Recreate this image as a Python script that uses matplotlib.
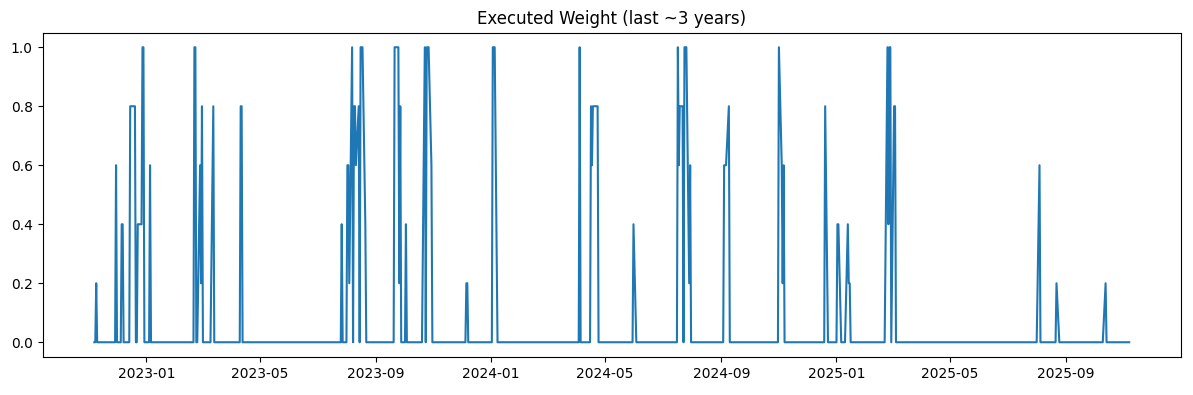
import matplotlib
matplotlib.use("Agg")
import matplotlib.pyplot as plt
import pandas as pd

start_date = "2022-11-07"
end_date = "2025-11-07"

event_dates = [
    "2022-11-09", "2022-11-30", "2022-12-06", "2022-12-07",
    "2022-12-15", "2022-12-16", "2022-12-19", "2022-12-20",
    "2022-12-23", "2022-12-26", "2022-12-27", "2022-12-28", "2022-12-29",
    "2023-01-05",
    "2023-02-21", "2023-02-22", "2023-02-27", "2023-02-28", "2023-03-01",
    "2023-03-13", "2023-04-11", "2023-04-12",
    "2023-07-27", "2023-08-02", "2023-08-03", "2023-08-04", "2023-08-07",
    "2023-08-09", "2023-08-10", "2023-08-11", "2023-08-14",
    "2023-08-16", "2023-08-17", "2023-08-18", "2023-08-21",
    "2023-09-21", "2023-09-22", "2023-09-25", "2023-09-26", "2023-09-27",
    "2023-10-03",
    "2023-10-23", "2023-10-25", "2023-10-26", "2023-10-27", "2023-10-30",
    "2023-12-06", "2023-12-07",
    "2024-01-03", "2024-01-04", "2024-01-05",
    "2024-04-04",
    "2024-04-16", "2024-04-17", "2024-04-18", "2024-04-19", "2024-04-22", "2024-04-23",
    "2024-05-31",
    "2024-07-17", "2024-07-18", "2024-07-19", "2024-07-22",
    "2024-07-24", "2024-07-25", "2024-07-26", "2024-07-29", "2024-07-30",
    "2024-09-04", "2024-09-05", "2024-09-06", "2024-09-09",
    "2024-11-01", "2024-11-04", "2024-11-05", "2024-11-06",
    "2024-12-20",
    "2025-01-02", "2025-01-03",
    "2025-01-13", "2025-01-14", "2025-01-15",
    "2025-02-24", "2025-02-25", "2025-02-26", "2025-02-27",
    "2025-03-03", "2025-03-04",
    "2025-08-04", "2025-08-22", "2025-10-13",
]
event_weights = [
    0.2, 0.6, 0.4, 0.4,
    0.8, 0.8, 0.8, 0.8,
    0.4, 0.4, 0.4, 1.0, 1.0,
    0.6,
    1.0, 1.0, 0.6, 0.2, 0.8,
    0.8, 0.8, 0.8,
    0.4, 0.6, 0.6, 0.2, 1.0,
    0.8, 0.8, 0.6, 0.8,
    1.0, 1.0, 1.0, 0.4,
    1.0, 1.0, 1.0, 0.2, 0.8,
    0.4,
    1.0, 1.0, 1.0, 1.0, 0.6,
    0.2, 0.2,
    1.0, 1.0, 1.0,
    1.0,
    0.8, 0.6, 0.8, 0.8, 0.8, 0.8,
    0.4,
    1.0, 0.6, 0.8, 0.8,
    1.0, 1.0, 1.0, 0.2, 0.6,
    0.6, 0.6, 0.6, 0.8,
    1.0, 0.6, 0.2, 0.6,
    0.8,
    0.4, 0.4,
    0.4, 0.2, 0.2,
    1.0, 0.4, 1.0, 1.0,
    0.8, 0.8,
    0.6, 0.2, 0.2,
]

idx = pd.bdate_range(start_date, end_date)
series = pd.Series(0.0, index=idx)
series.loc[pd.to_datetime(event_dates)] = event_weights

fig = plt.figure(figsize=(11.93, 3.95), dpi=100)
ax = fig.add_subplot(111)
ax.plot(series.index, series.values, color="#1f77b4", linewidth=1.5)
ax.set_title("Executed Weight (last ~3 years)")
fig.subplots_adjust(left=0.0357, right=0.9899, bottom=0.0962, top=0.9177)
fig.savefig("out.png", dpi=100)
